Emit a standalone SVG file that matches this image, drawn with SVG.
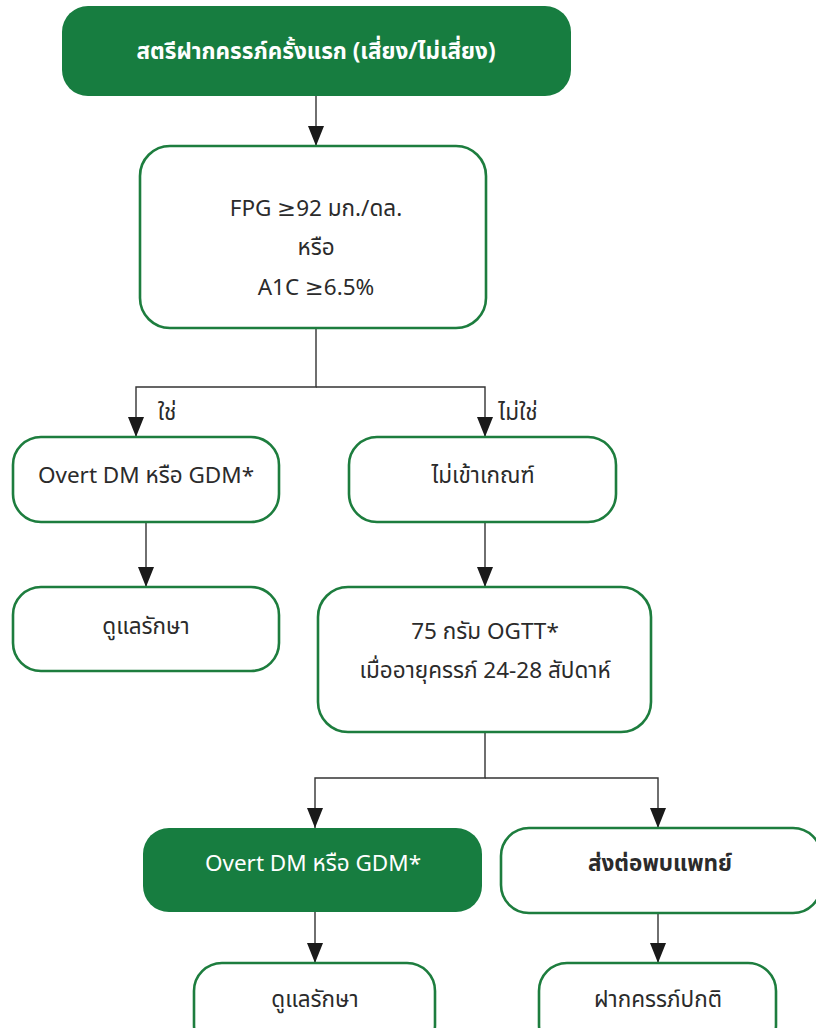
<svg xmlns="http://www.w3.org/2000/svg" width="816" height="1028" viewBox="0 0 816 1028">
<style>
.box{fill:#ffffff;stroke:#1d7d3e;stroke-width:2.6}
.fill{fill:#177d40;stroke:none}
.t{font-family:"Noto Sans Thai","Noto Sans","Tahoma","DejaVu Sans",sans-serif;font-size:22.5px;fill:#2b2b2b;text-anchor:middle}
.w{fill:#ffffff}
.b{font-weight:bold}
.c{fill:none;stroke:#333333;stroke-width:1.4}
</style>
<defs>
<marker id="ah" viewBox="0 0 20 16" refX="20" refY="8" markerWidth="20" markerHeight="16" markerUnits="userSpaceOnUse" orient="auto">
<path d="M0,0 L20,8 L0,16 z" fill="#1a1a1a"/>
</marker>
</defs>
<rect width="816" height="1028" fill="#ffffff"/>
<g id="connectors">
<path class="c" d="M316,96 V146" marker-end="url(#ah)"/>
<path class="c" d="M316,328 V387 H136 V437" marker-end="url(#ah)"/>
<path class="c" d="M316,387 H485 V437" marker-end="url(#ah)"/>
<path class="c" d="M146,522 V587" marker-end="url(#ah)"/>
<path class="c" d="M485,522 V587" marker-end="url(#ah)"/>
<path class="c" d="M485,732 V778 H315 V828" marker-end="url(#ah)"/>
<path class="c" d="M485,778 H658 V828" marker-end="url(#ah)"/>
<path class="c" d="M315,912 V963" marker-end="url(#ah)"/>
<path class="c" d="M658,913 V963" marker-end="url(#ah)"/>
<text class="t" x="167" y="420">ใช่</text>
<text class="t" x="518" y="420">ไม่ใช่</text>
</g>
<g id="start">
<rect class="fill" x="62" y="6" width="509" height="90" rx="26"/>
<text class="t w b" x="316" y="59" font-size="27">สตรีฝากครรภ์ครั้งแรก (เสี่ยง/ไม่เสี่ยง)</text>
</g>
<g id="screen">
<rect class="box" x="140" y="146" width="346" height="182" rx="30"/>
<text class="t" x="316" y="216">FPG ≥92 มก./ดล.</text>
<text class="t" x="316" y="255">หรือ</text>
<text class="t" x="316" y="295">A1C ≥6.5%</text>
</g>
<g id="overt1">
<rect class="box" x="13" y="437" width="266" height="85" rx="28"/>
<text class="t" x="146" y="483">Overt DM หรือ GDM*</text>
</g>
<g id="notmeet">
<rect class="box" x="349" y="437" width="267" height="85" rx="28"/>
<text class="t" x="483" y="483">ไม่เข้าเกณฑ์</text>
</g>
<g id="care1">
<rect class="box" x="13" y="587" width="266" height="84" rx="28"/>
<text class="t" x="146" y="634">ดูแลรักษา</text>
</g>
<g id="ogtt">
<rect class="box" x="318" y="587" width="333" height="145" rx="30"/>
<text class="t" x="485" y="639">75 กรัม OGTT*</text>
<text class="t" x="485" y="678">เมื่ออายุครรภ์ 24-28 สัปดาห์</text>
</g>
<g id="overt2">
<rect class="fill" x="143" y="828" width="339" height="84" rx="26"/>
<text class="t w" x="313" y="871">Overt DM หรือ GDM*</text>
</g>
<g id="refer">
<rect class="box" x="501" y="828" width="320" height="85" rx="28"/>
<text class="t b" x="660" y="871" font-size="21">ส่งต่อพบแพทย์</text>
</g>
<g id="care2">
<rect class="box" x="194" y="963" width="241" height="90" rx="28"/>
<text class="t" x="315" y="1007">ดูแลรักษา</text>
</g>
<g id="normal">
<rect class="box" x="539" y="963" width="237" height="90" rx="28"/>
<text class="t" x="658" y="1007">ฝากครรภ์ปกติ</text>
</g>
</svg>
